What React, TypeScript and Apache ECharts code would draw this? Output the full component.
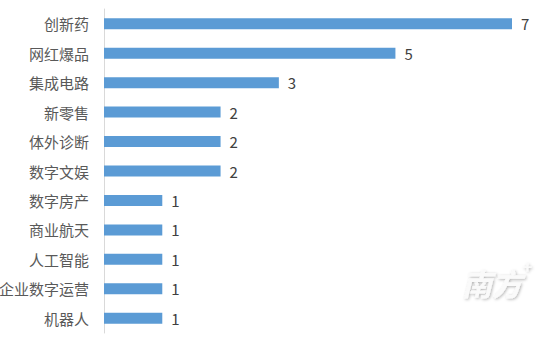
import React, { useEffect, useRef } from "react";
import * as echarts from "echarts";

const categories = ["创新药", "网红爆品", "集成电路", "新零售", "体外诊断", "数字文娱", "数字房产", "商业航天", "人工智能", "企业数字运营", "机器人"];
const values = [7, 5, 3, 2, 2, 2, 1, 1, 1, 1, 1];

export default function App() {
  const ref = useRef<HTMLDivElement>(null);
  useEffect(() => {
    const chart = echarts.init(ref.current!, null, { renderer: "svg" });
    const wm = {
      fill: "#fafafa",
      textShadowColor: "rgba(0,0,0,0.3)",
      textShadowBlur: 3,
      textShadowOffsetX: 1,
      textShadowOffsetY: 1,
    };
    chart.setOption({
      animation: false,
      backgroundColor: "#ffffff",
      grid: { left: 104, right: 43, top: 9, bottom: 5, containLabel: false, outerBoundsMode: "none" },
      xAxis: {
        type: "value",
        min: 0,
        max: 7,
        show: false,
      },
      yAxis: {
        type: "category",
        data: categories,
        inverse: true,
        axisLine: { show: true, lineStyle: { color: "#d9d9d9", width: 1 } },
        axisTick: { show: false },
        axisLabel: {
          color: "#595959",
          fontSize: 15,
          margin: 15,
          fontFamily: "Noto Sans CJK SC",
        },
      },
      series: [
        {
          type: "bar",
          data: values,
          barWidth: 11,
          itemStyle: { color: "#5b9bd5" },
          label: {
            show: true,
            position: "right",
            distance: 9,
            color: "#404040",
            fontSize: 15,
            fontFamily: "Noto Sans CJK SC",
          },
        },
      ],
      graphic: [
        {
          type: "text",
          left: 462,
          top: 268,
          style: {
            text: "南方",
            fontSize: 30,
            fontStyle: "italic",
            fontWeight: "bold",
            fontFamily: "Noto Sans CJK SC",
            ...wm,
          },
        },
        {
          type: "text",
          left: 523,
          top: 259,
          style: {
            text: "+",
            fontSize: 15,
            fontWeight: "bold",
            fontFamily: "Noto Sans CJK SC",
            ...wm,
          },
        },
      ],
    });
    return () => chart.dispose();
  }, []);
  return <div ref={ref} style={{ width: 555, height: 338, position: "absolute", left: 0, top: 0 }} />;
}
